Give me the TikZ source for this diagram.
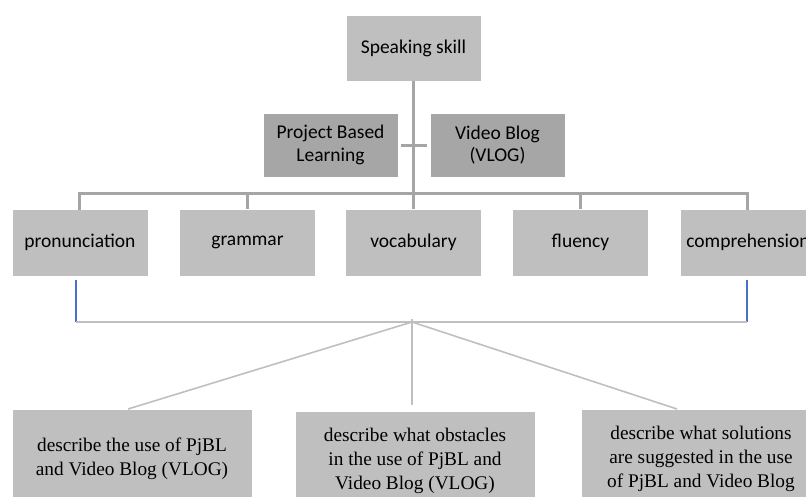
\documentclass[tikz,border=0pt]{standalone}
\usepackage{fontspec}
\setmainfont{Liberation Serif}
\newfontfamily\calibri{Carlito}
\definecolor{boxgray}{HTML}{BFBFBF}
\definecolor{boxdark}{HTML}{A6A6A6}
\definecolor{linegray}{HTML}{A5A5A5}
\definecolor{thingray}{HTML}{BFBFBF}
\definecolor{blueline}{HTML}{4472C4}
\begin{document}
\begin{tikzpicture}[x=1pt,y=-1pt,
  topbox/.style={fill=boxgray, draw=white, line width=0.6pt, minimum width=135pt, minimum height=66pt,
    inner sep=0pt, align=center, font=\calibri\fontsize{19.5}{22.5}\selectfont},
  midbox/.style={topbox, fill=boxdark, minimum height=64pt},
  lvlbox/.style={topbox, minimum width=136pt, minimum height=67pt},
  botbox/.style={fill=boxgray, draw=white, line width=0.6pt, minimum width=240pt, minimum height=100pt,
    inner sep=0pt, align=center, font=\fontsize{19.3}{24}\selectfont},
  thick gray/.style={draw=linegray, line width=3pt},
  thin gray/.style={draw=thingray, line width=1.6pt},
  blue link/.style={draw=blueline, line width=1.3pt}]
\useasboundingbox (0,0) rectangle (806,497);
\clip (0,0) rectangle (806,497);

% nodes
\node[topbox] (speak) at (413.5,48) {Speaking skill};
\node[midbox] (pbl) at (330.5,145) {Project Based\\Learning};
\node[midbox] (vlog) at (497.5,145) {Video Blog\\(VLOG)};

\node[lvlbox] (pron) at (80,242.5) {pronunciation};
\node[lvlbox] (gram) at (247.5,242.5) {grammar};
\node[lvlbox] (voc) at (413.5,242.5) {vocabulary};
\node[lvlbox] (flu) at (580.5,242.5) {fluency};
\node[lvlbox] (comp) at (748,242.5) {comprehension};

\node[botbox] (use) at (132,459) {describe the use of PjBL\\and Video Blog (VLOG)};
\node[botbox] (obs) at (415,461) {describe what obstacles\\in the use of PjBL and\\Video Blog (VLOG)};
\node[botbox] (sol) at (701,459) {describe what solutions\\are suggested in the use\\of PjBL and Video Blog};

% junction coordinates
\coordinate (barL) at (79,194);
\coordinate (barR) at (747,194);
\coordinate (barC) at (413,194);
\coordinate (crossL) at (401,146);
\coordinate (crossR) at (427,146);
\coordinate (blL) at (76,280);
\coordinate (blLb) at (76,322);
\coordinate (blR) at (747,280);
\coordinate (blRb) at (747,322);
\coordinate (apex) at (412,322);
\coordinate (apexTop) at (412,319);
\coordinate (useTop) at (128,409);
\coordinate (solTop) at (677,409);
\coordinate (obsTop) at (412,405);

% top tree connectors
\draw[thick gray] (speak.south -| barC) -- (voc.north -| barC);
\draw[thick gray] (crossL) -- (crossR);
\draw[thick gray, line cap=rect] (pron.north -| barL) -- (barL) -- (barR) -- (comp.north -| barR);
\draw[thick gray] (gram.north) -- (gram.north |- barL);
\draw[thick gray] (flu.north) -- (flu.north |- barL);

% bottom connectors
\draw[blue link] (blL) -- (blLb);
\draw[blue link] (blR) -- (blRb);
\draw[thin gray] (blLb) -- (blRb);
\draw[thin gray] (apexTop) -- (obsTop);
\draw[thin gray] (apex) -- (useTop);
\draw[thin gray] (apex) -- (solTop);
\end{tikzpicture}
\end{document}
